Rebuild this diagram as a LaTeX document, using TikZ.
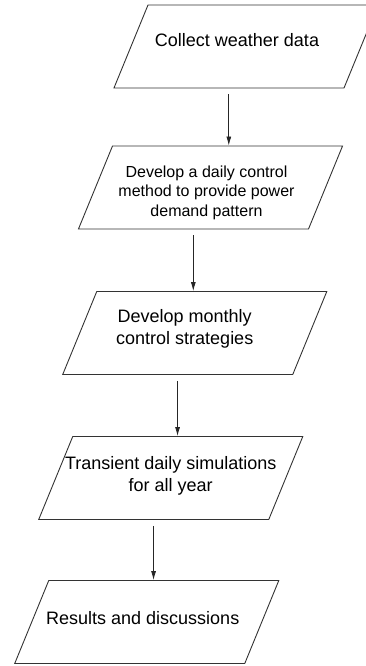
\documentclass[tikz,border=0pt]{standalone}
\usepackage{fontspec}
\setmainfont{Liberation Sans}
\usetikzlibrary{shapes.geometric,arrows.meta,calc}
% text block of a data box: #1 shift right, #2 shift up, #3 lines
\newcommand\iotext[3]{\parbox[c][83pt][c]{196pt}{\centering\makebox[0pt]{\hspace*{#1}\hspace*{#1}\raisebox{#2}[\height][\depth]{\begin{tabular}{@{}c@{}}#3\end{tabular}}}}}
\tikzset{
  io/.style={draw=black!80, line width=0.9pt, trapezium,
    trapezium left angle=67.7, trapezium right angle=112.3,
    inner sep=0pt, font=\fontsize{18}{21.6}\selectfont},
  flow/.style={-{Latex[length=9pt,width=5pt]}, line width=0.8pt, draw=black!85, shorten <=6pt}
}
\begin{document}
\begin{tikzpicture}[x=1pt,y=-1pt]
      \clip (0,0) rectangle (366,666);
      \draw
        (246,46.5) node[io] (weather){\iotext{-9pt}{4.5pt}{Collect weather data}}
        (210.5,187.5) node[io,font=\fontsize{16}{19.5}\selectfont] (daily){\iotext{-4pt}{-5.5pt}{Develop a daily control\\method to provide power\\demand pattern}}
        (194.75,333) node[io] (monthly){\iotext{-10pt}{4pt}{Develop monthly\\control strategies}}
        (170.75,478) node[io] (sim){\iotext{0pt}{2pt}{Transient daily simulations\\for all year}}
        (146.75,622) node[io] (results){\iotext{-4pt}{2pt}{Results and discussions}};
      \foreach \n in {weather,daily,monthly,sim}
        \coordinate (\n-out) at ($(\n.bottom left corner)!.5!(\n.bottom right corner)$);
      \begin{scope}[flow]
        \draw (weather-out) to (weather-out |- daily.north);
        \draw (daily-out) to (daily-out |- monthly.north);
        \draw (monthly-out) to (monthly-out |- sim.north);
        \draw (sim-out) to (sim-out |- results.north);
      \end{scope}
    \end{tikzpicture}
\end{document}
